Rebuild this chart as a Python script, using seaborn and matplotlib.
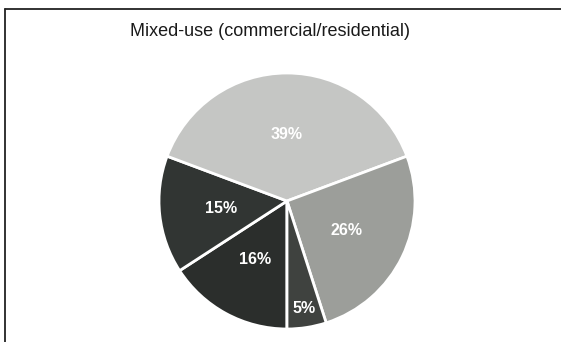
import numpy as np
import matplotlib
matplotlib.use("Agg")
import matplotlib.pyplot as plt
from matplotlib.lines import Line2D
import seaborn as sns

# Share of each use category, clockwise from 6 o'clock
categories = ["Residential", "Retail", "Office", "Hospitality", "Other"]
shares = [16, 15, 39, 26, 5]
slice_colors = ["#2b2e2c", "#313533", "#c5c6c4", "#9c9e9a", "#3f423f"]
title = "Mixed-use (commercial/residential)"

sns.set_theme(style="white")
plt.rcParams["font.family"] = ["Liberation Sans", "DejaVu Sans"]

W, H = 561, 342
fig = plt.figure(figsize=(W / 100, H / 100), dpi=100)
fig.patch.set_facecolor("white")

cx, cy, r = 287, 201, 128
ax = fig.add_axes([(cx - r) / W, (H - cy - r) / H, 2 * r / W, 2 * r / H])
ax.axis("off")

wedges, _ = ax.pie(
    shares,
    colors=slice_colors,
    startangle=270,
    counterclock=False,
    radius=1.0,
    wedgeprops=dict(edgecolor="white", linewidth=2.0),
)
ax.set_xlim(-1, 1)
ax.set_ylim(-1, 1)
ax.set_aspect("equal")

total = sum(shares)
for w, v in zip(wedges, shares):
    mid = np.deg2rad((w.theta1 + w.theta2) / 2)
    dist = 0.85 if v / total < 0.08 else 0.52
    ax.text(dist * np.cos(mid), dist * np.sin(mid), f"{v}%",
            ha="center", va="center", color="white",
            fontsize=11.5, fontweight="bold")

fig.text(270 / W, 1 - 31 / H, title, ha="center", va="center",
         fontsize=13, color="#1a1a1a")

# Frame around the chart area
fig.add_artist(Line2D([5 / W, 5 / W], [0, 1 - 9 / H], color="#222222", lw=1.3,
                      transform=fig.transFigure))
fig.add_artist(Line2D([5 / W, 1], [1 - 9 / H, 1 - 9 / H], color="#222222", lw=1.3,
                      transform=fig.transFigure))

fig.savefig("out.png", dpi=100, facecolor="white")
